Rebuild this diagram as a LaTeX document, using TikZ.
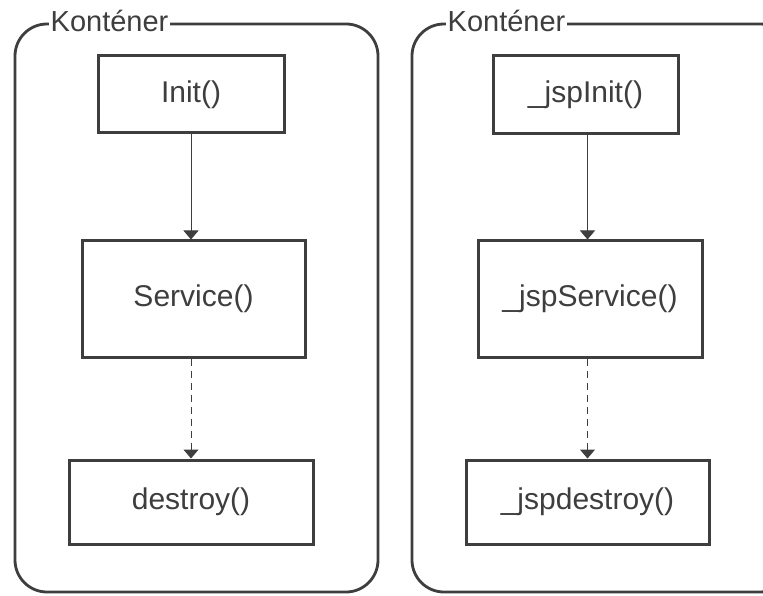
\documentclass[tikz,border=0pt]{standalone}
\usepackage{fontspec}
\setmainfont{Liberation Sans}
\usetikzlibrary{arrows.meta}
\definecolor{ink}{HTML}{3E3E3E}
\tikzset{
  container/.style={draw=ink, line width=2.8pt, rounded corners=32pt},
  caption/.style={text=ink, font=\fontsize{29}{34}\selectfont, fill=white,
    inner xsep=1.5pt, inner ysep=0pt, anchor=base west},
  method/.style={draw=ink, line width=3pt, text=ink,
    font=\fontsize{30}{36}\selectfont, inner sep=0pt},
  call/.style={draw=ink, line width=1pt, -{Triangle[width=15pt,length=9pt]}},
  later/.style={call, dash pattern=on 7pt off 5pt},
}
\begin{document}
\begin{tikzpicture}[x=1pt, y=-1pt]
\useasboundingbox (0,0) rectangle (763,596);
\fill[white] (0,0) rectangle (763,596);
\clip (0,0) rectangle (763,596);

% servlet container
\draw[container] (15,24) rectangle (378,592);
\node[caption] (k1) at (49,32) {Konténer};

\node[method, minimum width=186pt, minimum height=77pt] (init) at (191,94.5) {Init()};
\node[method, minimum width=223pt, minimum height=116pt] (service) at (193.5,299) {Service()};
\node[method, minimum width=244pt, minimum height=84pt] (destroy) at (191,502) {destroy()};

\draw[call] (init.south) -- (init.south |- service.north);
\draw[later] (service.south -| destroy.north) -- (destroy.north);

% JSP container
\draw[container] (412,24) rectangle (792,592);
\node[caption] (k2) at (446,32) {Konténer};

\node[method, minimum width=185pt, minimum height=78pt] (jspinit) at (585.5,95) {\_jspInit()};
\node[method, minimum width=224pt, minimum height=116pt] (jspservice) at (590,299) {\_jspService()};
\node[method, minimum width=243pt, minimum height=84pt] (jspdestroy) at (587.5,502) {\_jspdestroy()};

\draw[call] (jspinit.south -| jspdestroy.north) -- (jspservice.north -| jspdestroy.north);
\draw[later] (jspservice.south -| jspdestroy.north) -- (jspdestroy.north);
\end{tikzpicture}
\end{document}
